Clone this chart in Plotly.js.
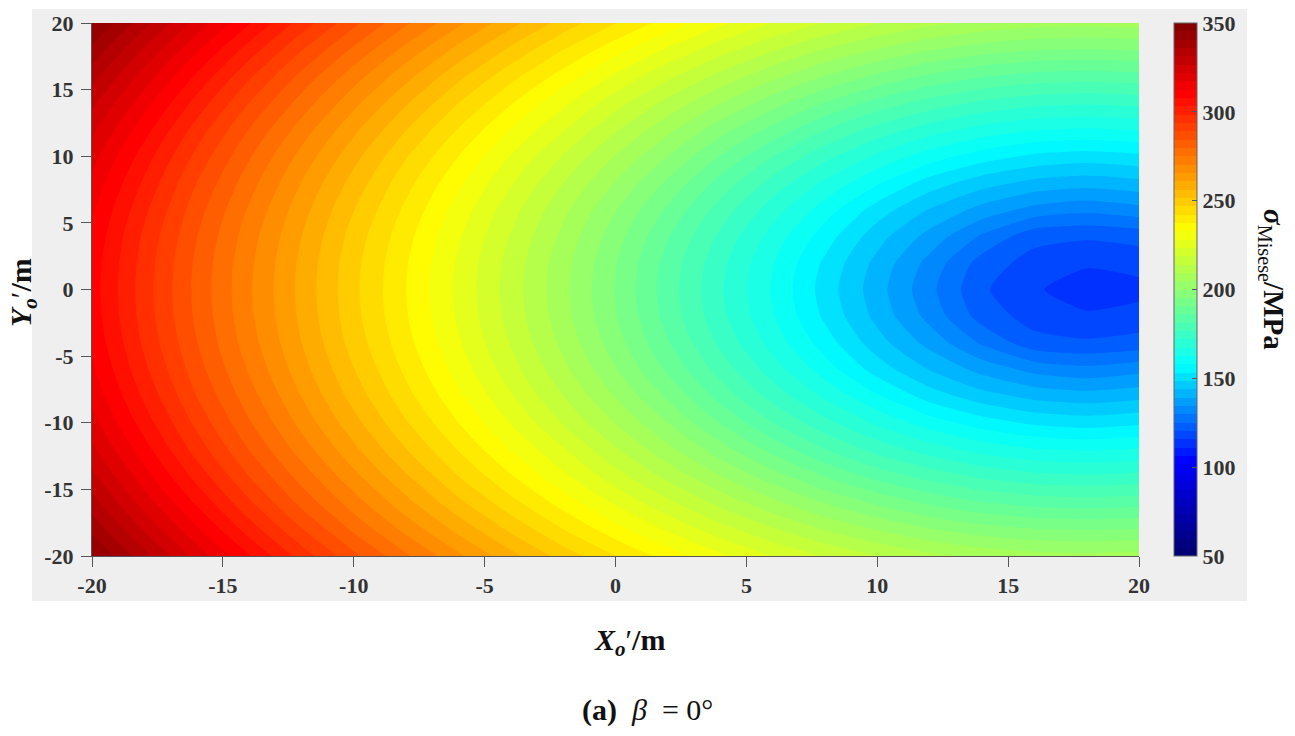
<!DOCTYPE html>
<html>
<head>
<meta charset="utf-8">
<script src="https://cdn.plot.ly/plotly-3.0.1.min.js"></script>
<style>
  html, body { margin: 0; padding: 0; background: #fff; }
  #chart { width: 1295px; height: 736px; }
</style>
</head>
<body>
<div id="chart"></div>
<script>
// positions along the plate, metres
const xValues = [-20, -18, -16, -14, -12, -10, -8, -6, -4, -2, 0, 2, 4, 6, 8, 10, 12, 14, 16, 18, 20];
const yValues = [-20, -18, -16, -14, -12, -10, -8, -6, -4, -2, 0, 2, 4, 6, 8, 10, 12, 14, 16, 18, 20];

// stress, MPa, one row per yValues entry
const stress = [
  [346, 332.9, 320.2, 308.2, 296.4, 285.7, 275.8, 266.6, 257.9, 249.6, 242.3, 235.5, 229.2, 223.4, 218.4, 214.1, 210.6, 208.1, 206.5, 206, 206.5],
  [339.4, 325.9, 313.3, 301, 289.4, 278.7, 268.8, 259.5, 250.5, 242.3, 234.6, 227.4, 220.7, 214.6, 209.1, 204.4, 200.3, 197.4, 195.6, 195, 195.6],
  [333.2, 319.8, 307, 294.6, 283, 272.5, 262.5, 252.8, 243.8, 235.5, 227.4, 219.8, 212.6, 206, 199.8, 194.4, 189.8, 186.3, 184.2, 183.5, 184.2],
  [327.8, 314.4, 301.4, 289, 277.7, 267, 256.8, 246.9, 237.9, 229.2, 220.7, 212.6, 204.9, 197.4, 190.4, 184.2, 179.3, 175.6, 173.3, 172.5, 173.3],
  [323, 309.7, 296.4, 284.2, 272.9, 262.1, 251.7, 241.9, 232.6, 223.9, 214.6, 206, 197.4, 189.1, 181.4, 174.8, 169.5, 165.4, 162.9, 162, 162.9],
  [319, 305.5, 292.4, 280.2, 268.8, 257.9, 247.3, 237.5, 227.9, 218.4, 209.1, 200, 190.4, 181.4, 173.3, 166.3, 160.2, 155.5, 152.2, 151, 152.2],
  [315.8, 302.2, 289, 277, 265.5, 254.4, 243.8, 233.8, 223.9, 214.1, 204.4, 194.4, 184.2, 174.8, 166.3, 158.4, 151, 145.7, 142.3, 141, 142.3],
  [313.3, 299.5, 286.4, 274.4, 262.9, 251.7, 241.1, 230.9, 220.7, 210.6, 200.3, 189.8, 179.3, 169.5, 160.2, 151, 143.5, 137.4, 132.8, 131, 132.8],
  [311.5, 297.5, 284.5, 272.5, 261, 249.6, 239.1, 228.7, 218.4, 208.1, 197.4, 186.3, 175.6, 165.4, 155.5, 145.7, 137.4, 129, 122, 121, 122],
  [310.4, 296.4, 283.4, 271.4, 259.9, 248.4, 237.9, 227.4, 217, 206.5, 195.6, 184.2, 173.3, 162.9, 152.2, 142.3, 132.8, 123, 118.3, 116.6, 117.5],
  [310, 296, 283, 271, 259.5, 248, 237.5, 227, 216.5, 206, 195, 183.5, 172.5, 162, 151, 141, 131, 121, 116.5, 112, 114],
  [310.4, 296.4, 283.4, 271.4, 259.9, 248.4, 237.9, 227.4, 217, 206.5, 195.6, 184.2, 173.3, 162.9, 152.2, 142.3, 132.8, 123, 118.3, 116.6, 117.5],
  [311.5, 297.5, 284.5, 272.5, 261, 249.6, 239.1, 228.7, 218.4, 208.1, 197.4, 186.3, 175.6, 165.4, 155.5, 145.7, 137.4, 129, 122, 121, 122],
  [313.3, 299.5, 286.4, 274.4, 262.9, 251.7, 241.1, 230.9, 220.7, 210.6, 200.3, 189.8, 179.3, 169.5, 160.2, 151, 143.5, 137.4, 132.8, 131, 132.8],
  [315.8, 302.2, 289, 277, 265.5, 254.4, 243.8, 233.8, 223.9, 214.1, 204.4, 194.4, 184.2, 174.8, 166.3, 158.4, 151, 145.7, 142.3, 141, 142.3],
  [319, 305.5, 292.4, 280.2, 268.8, 257.9, 247.3, 237.5, 227.9, 218.4, 209.1, 200, 190.4, 181.4, 173.3, 166.3, 160.2, 155.5, 152.2, 151, 152.2],
  [323, 309.7, 296.4, 284.2, 272.9, 262.1, 251.7, 241.9, 232.6, 223.9, 214.6, 206, 197.4, 189.1, 181.4, 174.8, 169.5, 165.4, 162.9, 162, 162.9],
  [327.8, 314.4, 301.4, 289, 277.7, 267, 256.8, 246.9, 237.9, 229.2, 220.7, 212.6, 204.9, 197.4, 190.4, 184.2, 179.3, 175.6, 173.3, 172.5, 173.3],
  [333.2, 319.8, 307, 294.6, 283, 272.5, 262.5, 252.8, 243.8, 235.5, 227.4, 219.8, 212.6, 206, 199.8, 194.4, 189.8, 186.3, 184.2, 183.5, 184.2],
  [339.4, 325.9, 313.3, 301, 289.4, 278.7, 268.8, 259.5, 250.5, 242.3, 234.6, 227.4, 220.7, 214.6, 209.1, 204.4, 200.3, 197.4, 195.6, 195, 195.6],
  [346, 332.9, 320.2, 308.2, 296.4, 285.7, 275.8, 266.6, 257.9, 249.6, 242.3, 235.5, 229.2, 223.4, 218.4, 214.1, 210.6, 208.1, 206.5, 206, 206.5]
];

const axisTicks = [-20, -15, -10, -5, 0, 5, 10, 15, 20];
const axisTickText = ['-20', '-15', '-10', '-5', '0', '5', '10', '15', '20'];
const barTicks = [50, 100, 150, 200, 250, 300, 350];

// colorbar stops
const stopValues = [50, 103, 157, 234, 310, 350];
const stopColors = ['rgb(0,0,110)', 'rgb(0,0,255)', 'rgb(0,255,255)', 'rgb(255,255,0)', 'rgb(255,0,0)', 'rgb(128,0,0)'];
const zMin = 50;
const zMax = 350;
const bandCount = 64;

const colorscale = stopValues.map((v, i) => [(v - zMin) / (zMax - zMin), stopColors[i]]);

const W = 1295, H = 736;
const m = { l: 92, r: 156, t: 23, b: 180 };
const plotW = W - m.l - m.r;
const plotH = H - m.t - m.b;
// pixel -> paper fractions, for the grey panel, colorbar and loose texts
const px = v => (v - m.l) / plotW;
const py = v => 1 - (v - m.t) / plotH;

const serif = '"Liberation Serif", "Times New Roman", serif';
const tickFont = { family: serif, size: 22, color: '#333', weight: 700 };
const titleFont = { family: serif, size: 30, color: '#111' };

const trace = {
  type: 'contour',
  x: xValues,
  y: yValues,
  z: stress,
  zmin: zMin,
  zmax: zMax,
  colorscale: colorscale,
  autocontour: false,
  contours: { start: zMin, end: zMax, size: (zMax - zMin) / bandCount, coloring: 'fill', showlines: false },
  line: { width: 0, smoothing: 0.6 },
  hoverinfo: 'skip',
  colorbar: {
    x: px(1174),
    xanchor: 'left',
    xpad: 0,
    y: 0,
    yanchor: 'bottom',
    ypad: 0,
    len: 1,
    thickness: 23,
    thicknessmode: 'pixels',
    outlinecolor: '#666',
    outlinewidth: 1,
    tickmode: 'array',
    tickvals: barTicks,
    ticks: 'inside',
    ticklen: 5,
    tickcolor: '#555',
    tickfont: tickFont
  }
};

function axis() {
  return {
    range: [-20, 20],
    tickmode: 'array',
    tickvals: axisTicks,
    ticktext: axisTickText,
    ticks: 'outside',
    ticklen: 10,
    tickcolor: '#555',
    tickfont: tickFont,
    showgrid: false,
    zeroline: false,
    showline: true,
    linecolor: '#555',
    linewidth: 1
  };
}

const yAxis = axis();
yAxis.ticklabelstandoff = 3;

function label(x, y, text, font, angle) {
  return {
    xref: 'paper',
    yref: 'paper',
    x: px(x),
    y: py(y),
    xanchor: 'center',
    yanchor: 'middle',
    showarrow: false,
    text: text,
    font: font,
    textangle: angle || 0
  };
}

const layout = {
  width: W,
  height: H,
  margin: m,
  paper_bgcolor: '#fff',
  plot_bgcolor: '#fff',
  showlegend: false,
  xaxis: axis(),
  yaxis: yAxis,
  shapes: [{
    type: 'rect',
    layer: 'below',
    xref: 'paper',
    yref: 'paper',
    x0: px(32),
    x1: px(1247),
    y0: py(601),
    y1: py(9),
    fillcolor: '#efefef',
    line: { width: 0 }
  }],
  annotations: [
    label(629, 642, '<b><i>X</i><sub><i>o</i></sub></b>′<b>/m</b>', titleFont),
    label(23, 293, '<b><i>Y</i><sub><i>o</i></sub></b>′<b>/m</b>', titleFont, -90),
    label(1272, 279, '<b><i>σ</i></b><sub>Misese</sub><b>/MPa</b>', { family: serif, size: 29, color: '#111' }, 90),
    label(647, 710, '<b>(a)</b>  <i>β</i>  = 0°', { family: serif, size: 30, color: '#111' })
  ]
};

Plotly.newPlot('chart', [trace], layout, { displayModeBar: false, responsive: false });
</script>
</body>
</html>
